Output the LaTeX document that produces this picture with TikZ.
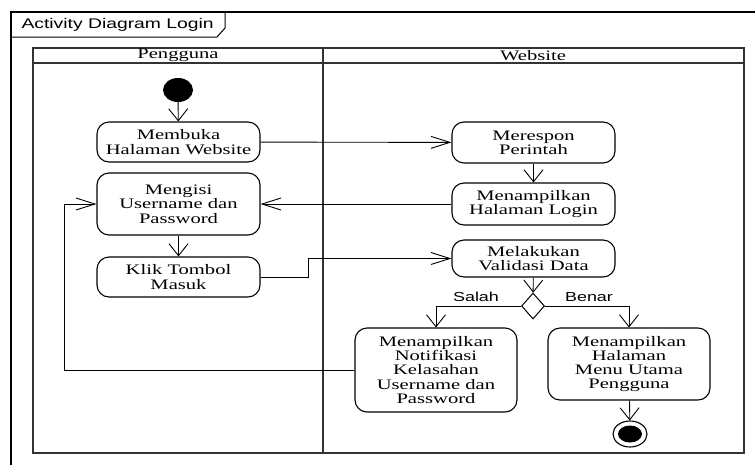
\documentclass[tikz,border=0pt]{standalone}
\usepackage{fontspec}
\setmainfont{Liberation Serif}[FakeStretch=1.42]
\newfontfamily\judulfont{Liberation Sans}[FakeStretch=1.38]
\usetikzlibrary{arrows.meta,shapes.geometric}
\definecolor{garis}{HTML}{333333}
\tikzset{
  aksi/.style={draw, rounded corners=12pt, line width=1.1pt, minimum width=163, align=center, inner sep=0pt, font=\fontsize{14.5}{14.3}\selectfont},
  alur/.style={line width=0.9pt, -{Straight Barb[length=12pt,width=19pt,line width=0.9pt]}},
  alurh/.style={line width=0.9pt, -{Straight Barb[length=19pt,width=12pt,line width=0.9pt]}},
  lajur/.style={draw=garis, line width=2.4pt},
  ket/.style={font=\judulfont\fontsize{13}{14}\selectfont}
}
\begin{document}
\begin{tikzpicture}[x=1pt,y=-1pt]
\useasboundingbox (0,0) rectangle (755,464);
\clip (0,0) rectangle (755,464);
% frame dan judul
\draw[line width=1.2pt] (760,12) -- (11,12) -- (11,470);
\draw[line width=1pt] (11,37) -- (217,37) -- (225,28) -- (225,12);
\node[anchor=west, font=\judulfont\fontsize{14}{14}\selectfont] (judul) at (18,25) {Activity Diagram Login};
% swimlane
\draw[lajur] (33,48) rectangle (744,453);
\draw[lajur] (33,63) -- (744,63);
\draw[lajur] (323,48) -- (323,453);
\node[font=\fontsize{14.5}{14}\selectfont] (pengguna) at (178,55.5) {Pengguna};
\node[font=\fontsize{14.5}{14}\selectfont] (website) at (533,55.5) {Website};
% node
\node[ellipse, fill, minimum width=30, minimum height=24, inner sep=0pt] (mulai) at (178,90){};
\node[aksi, minimum height=40] (buka) at (178.5,142){Membuka\\Halaman Website};
\node[aksi, minimum height=62] (isi) at (178.5,204){Mengisi\\Username dan\\Password};
\node[aksi, minimum height=40] (klik) at (178.5,277){Klik Tombol\\Masuk};
\node[aksi, minimum height=41] (respon) at (533.5,142.5){Merespon\\Perintah};
\node[aksi, minimum height=42] (login) at (533.5,204){Menampilkan\\Halaman Login};
\node[aksi, minimum height=37] (validasi) at (533.5,258.5){Melakukan\\Validasi Data};
\node[diamond, draw, line width=1pt, minimum width=23, minimum height=26, inner sep=0pt, aspect=0.9] (keputusan) at (533,306){};
\node[aksi, minimum width=162, minimum height=84] (notif) at (436,370){Menampilkan\\Notifikasi\\Kelasahan\\Username dan\\Password};
\node[aksi, minimum width=162, minimum height=72] (menu) at (629,364){Menampilkan\\Halaman\\Menu Utama\\Pengguna};
\node[ellipse, draw, line width=1.1pt, minimum width=34, minimum height=26, inner sep=0pt] (akhir) at (630,434){};
\node[ellipse, fill, minimum width=24, minimum height=17, inner sep=0pt] (akhirdalam) at (630,434){};
\node[ket] (salah) at (476,297) {Salah};
\node[ket] (benar) at (589,297) {Benar};
% alur
\draw[alur] (mulai) -- (buka);
\draw[alurh] (buka) -- (respon);
\draw[alur] (respon) -- (login);
\draw[alurh] (login) -- (isi);
\draw[alur] (isi) -- (klik);
\draw[alurh] (klik.east) -- ++(48,0) |- (validasi.west);
\draw[alur] (validasi) -- (keputusan);
\draw[alur] (keputusan.west) -| (notif.north);
\draw[alur] (keputusan.east) -| (menu.north);
\draw[alurh] (notif.west) -- ++(-290,0) |- (isi.west);
\draw[alur] (menu) -- (akhir);
\end{tikzpicture}
\end{document}
